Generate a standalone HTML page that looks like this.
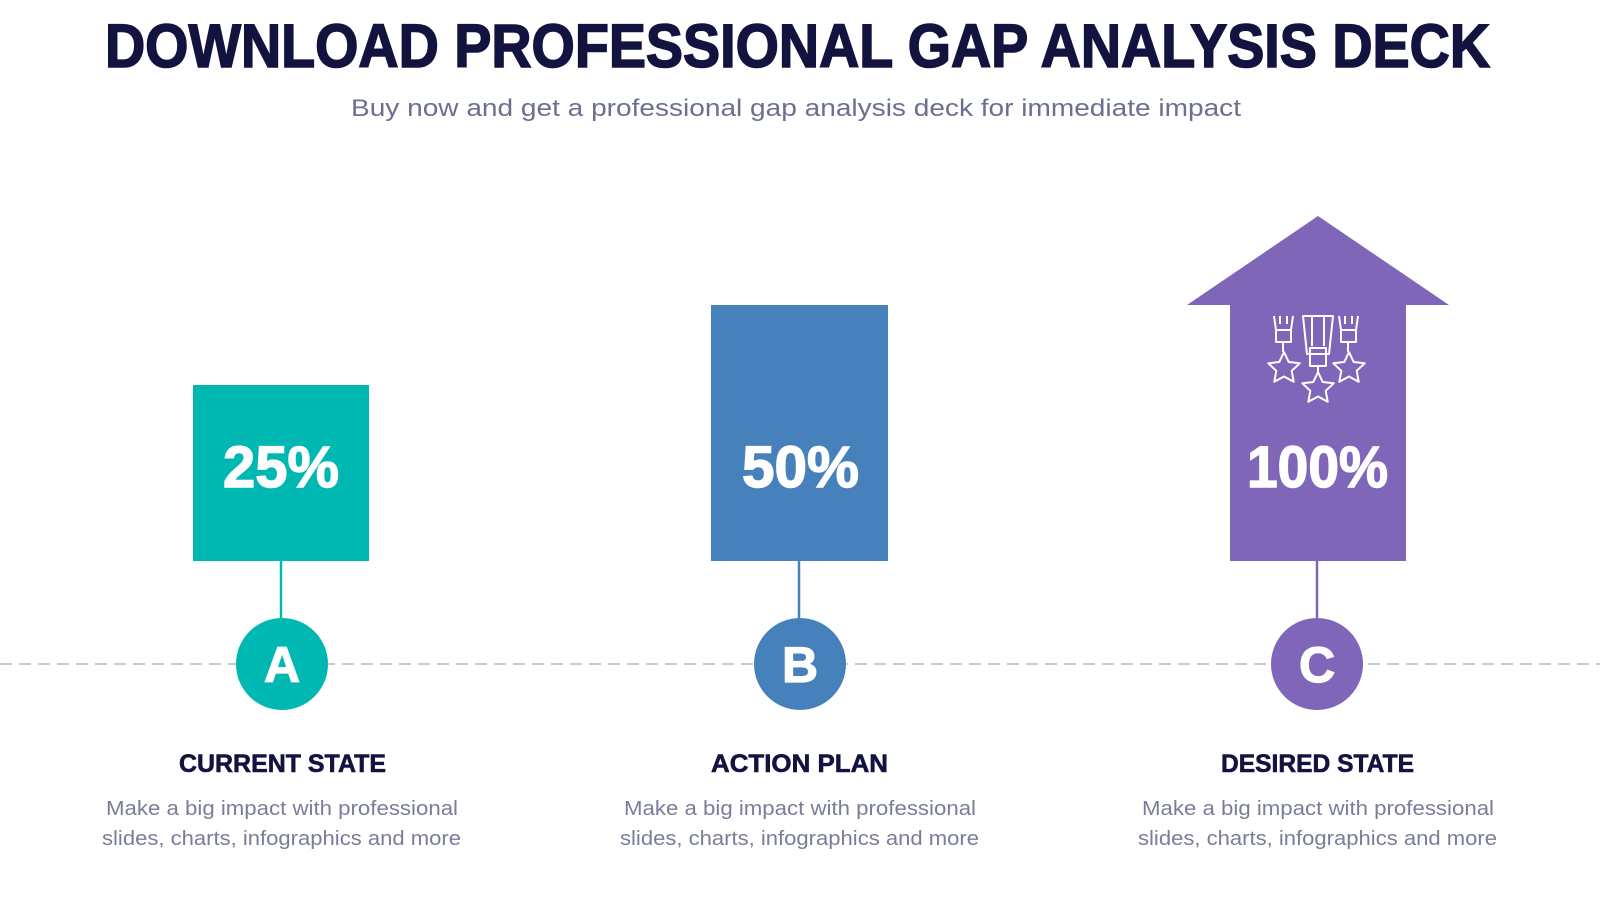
<!DOCTYPE html>
<html><head><meta charset="utf-8"><style>
html,body{margin:0;padding:0;background:#fff;width:1600px;height:900px;overflow:hidden}
svg{display:block}
text{font-family:"Liberation Sans",sans-serif}
</style></head><body>
<svg width="1600" height="900" viewBox="0 0 1600 900">
<text x="105" y="67" font-size="61" font-weight="bold" fill="#12133f" stroke="#12133f" stroke-width="1.6" textLength="1385" lengthAdjust="spacingAndGlyphs">DOWNLOAD PROFESSIONAL GAP ANALYSIS DECK</text>
<text x="351" y="116" font-size="24" fill="#6b7090" textLength="890" lengthAdjust="spacingAndGlyphs">Buy now and get a professional gap analysis deck for immediate impact</text>
<line x1="0" y1="664" x2="1600" y2="664" stroke="#c5cad6" stroke-width="2" stroke-dasharray="12,7"/>
<!-- A -->
<rect x="193" y="385" width="176" height="176" fill="#00b8b2"/>
<line x1="281" y1="561" x2="281" y2="620" stroke="#00b8b2" stroke-width="2.5"/>
<circle cx="282" cy="664" r="46" fill="#00b8b2"/>
<text x="282" y="682" font-size="50" font-weight="bold" fill="#fff" stroke="#fff" stroke-width="1.2" text-anchor="middle">A</text>
<text x="223" y="487" font-size="58" font-weight="bold" fill="#fff" stroke="#fff" stroke-width="1.4" textLength="116" lengthAdjust="spacingAndGlyphs">25%</text>
<!-- B -->
<rect x="711" y="305" width="177" height="256" fill="#4681bc"/>
<line x1="799" y1="561" x2="799" y2="620" stroke="#4681bc" stroke-width="2.5"/>
<circle cx="800" cy="664" r="46" fill="#4681bc"/>
<text x="800" y="682" font-size="50" font-weight="bold" fill="#fff" stroke="#fff" stroke-width="1.2" text-anchor="middle">B</text>
<text x="742" y="487" font-size="58" font-weight="bold" fill="#fff" stroke="#fff" stroke-width="1.4" textLength="117" lengthAdjust="spacingAndGlyphs">50%</text>
<!-- C -->
<polygon points="1318,216 1449,305 1406,305 1406,561 1230,561 1230,305 1187,305" fill="#7f66b9"/>
<line x1="1317" y1="561" x2="1317" y2="620" stroke="#7f66b9" stroke-width="2.5"/>
<circle cx="1317" cy="664" r="46" fill="#7f66b9"/>
<text x="1317" y="682" font-size="50" font-weight="bold" fill="#fff" stroke="#fff" stroke-width="1.2" text-anchor="middle">C</text>
<text x="1247" y="487" font-size="58" font-weight="bold" fill="#fff" stroke="#fff" stroke-width="1.4" textLength="141" lengthAdjust="spacingAndGlyphs">100%</text>
<g fill="none" stroke="#fff" stroke-width="2" stroke-linejoin="round">
<path d="M1274,316 l2,14 M1293,316 l-2,14 M1280,316 v8 M1287,316 v8 M1276,330 h15 v12 h-15 z M1283,342 v10"/>
<path d="M1339,316 l2,14 M1358,316 l-2,14 M1345,316 v8 M1352,316 v8 M1341,330 h15 v12 h-15 z M1348,342 v10"/>
<path d="M1303,316 h30 l-4,38 h-22 z M1312,316 v30 M1324,316 v30 M1310,348 h16 v18 h-16 z M1318,366 v6"/>
<path d="M1284,352 l4.7,10 11,1.3 -8,7.5 2,11 -9.7,-5.3 -9.7,5.3 2,-11 -8,-7.5 11,-1.3 z"/>
<path d="M1349,352 l4.7,10 11,1.3 -8,7.5 2,11 -9.7,-5.3 -9.7,5.3 2,-11 -8,-7.5 11,-1.3 z"/>
<path d="M1318,372 l4.7,10 11,1.3 -8,7.5 2,11 -9.7,-5.3 -9.7,5.3 2,-11 -8,-7.5 11,-1.3 z"/>
</g>
<!-- labels -->
<text x="179" y="772" font-size="25" font-weight="bold" fill="#12133f" stroke="#12133f" stroke-width="0.6" textLength="207" lengthAdjust="spacingAndGlyphs">CURRENT STATE</text>
<text x="711" y="772" font-size="25" font-weight="bold" fill="#12133f" stroke="#12133f" stroke-width="0.6" textLength="177" lengthAdjust="spacingAndGlyphs">ACTION PLAN</text>
<text x="1221" y="772" font-size="25" font-weight="bold" fill="#12133f" stroke="#12133f" stroke-width="0.6" textLength="193" lengthAdjust="spacingAndGlyphs">DESIRED STATE</text>
<g font-size="20" fill="#7a7d99">
<text x="106" y="815" textLength="352" lengthAdjust="spacingAndGlyphs">Make a big impact with professional</text>
<text x="102" y="845" textLength="359" lengthAdjust="spacingAndGlyphs">slides, charts, infographics and more</text>
<text x="624" y="815" textLength="352" lengthAdjust="spacingAndGlyphs">Make a big impact with professional</text>
<text x="620" y="845" textLength="359" lengthAdjust="spacingAndGlyphs">slides, charts, infographics and more</text>
<text x="1142" y="815" textLength="352" lengthAdjust="spacingAndGlyphs">Make a big impact with professional</text>
<text x="1138" y="845" textLength="359" lengthAdjust="spacingAndGlyphs">slides, charts, infographics and more</text>
</g>
</svg>
</body></html>
